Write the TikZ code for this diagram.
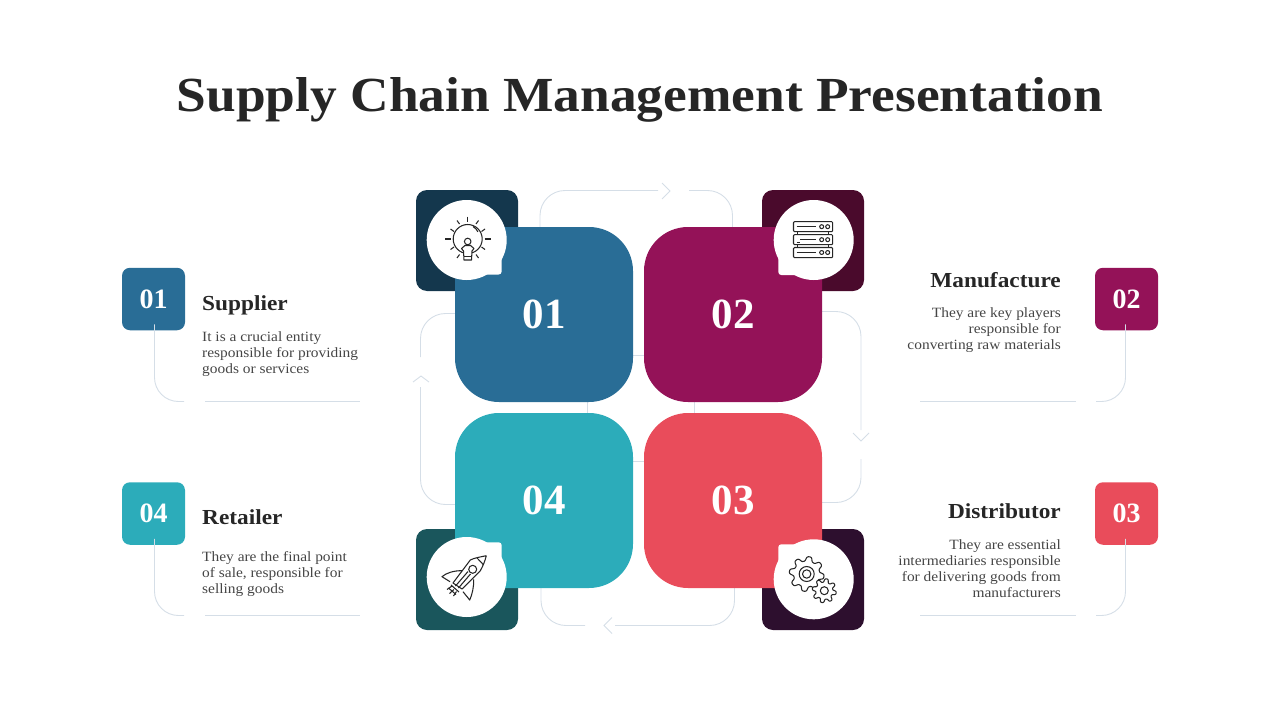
\documentclass[tikz,border=0pt]{standalone}
\usepackage{fontspec}
\usepackage{tikz}
\newfontfamily\lora[FakeStretch=1.09]{Liberation Serif}
\newfontfamily\lorafig{Liberation Serif}
\definecolor{ink}{HTML}{262626}
\definecolor{bodyink}{HTML}{454545}
\definecolor{guideline}{HTML}{D5DEE7}
\definecolor{bluesq}{HTML}{296D96}
\definecolor{plumsq}{HTML}{941258}
\definecolor{redsq}{HTML}{E94C5B}
\definecolor{tealsq}{HTML}{2CACBA}
\definecolor{bluedark}{HTML}{14374D}
\definecolor{plumdark}{HTML}{4A0A2C}
\definecolor{reddark}{HTML}{2D0F2E}
\definecolor{tealdark}{HTML}{1A565C}
\tikzset{
    bigsq/.style={shape=rectangle, rounded corners=44pt, minimum width=178pt, minimum height=175pt, inner sep=0pt, text=white, font=\lorafig\bfseries\fontsize{43}{43}\selectfont},
    darksq/.style={shape=rectangle, rounded corners=11pt, minimum width=102pt, minimum height=101pt, inner sep=0pt},
    bubble/.style={shape=circle, fill=white, minimum size=80pt, inner sep=0pt},
    tagbox/.style={shape=rectangle, rounded corners=8pt, minimum width=63pt, minimum height=62.5pt, inner sep=0pt, text=white, font=\lorafig\bfseries\fontsize{28}{28}\selectfont},
    headtext/.style={text=ink, inner sep=0pt, font=\lora\bfseries\fontsize{21.4}{24}\selectfont},
    bodytext/.style={text=bodyink, inner sep=0pt, font=\lora\fontsize{14.15}{16}\selectfont},
    guide/.style={draw=guideline, line width=0.9pt},
    icon/.style={draw=ink, line width=1.05pt, line join=round}
}
\begin{document}
\begin{tikzpicture}[x=1pt, y=-1pt]

                \useasboundingbox (0,0) rectangle (1280,720);

                \node[text=ink, inner sep=0pt, font=\lora\bfseries\fontsize{49}{49}\selectfont] (title) at (640,100) {Supply Chain Management Presentation};

                \coordinate (chevtop) at (670,191);
                \coordinate (chevright) at (861,441);
                \coordinate (chevbottom) at (604,625.5);
                \coordinate (chevleft) at (421,376);

                \draw[guide, rounded corners=25pt] (658,190.5) -- (540,190.5) -- (540,355.5) -- (732.5,355.5) -- (732.5,190.5) -- (689,190.5);
                \draw[guide] ([shift={(-8,-8)}]chevtop) -- (chevtop) -- ([shift={(-8,8)}]chevtop);

                \draw[guide, rounded corners=25pt] (861,430) -- (861,311.5) -- (694.5,311.5) -- (694.5,502.5) -- (861,502.5) -- (861,459);
                \draw[guide] ([shift={(-8,-8)}]chevright) -- (chevright) -- ([shift={(8,-8)}]chevright);

                \draw[guide, rounded corners=25pt] (585,625.5) -- (541,625.5) -- (541,461.5) -- (734.5,461.5) -- (734.5,625.5) -- (615,625.5);
                \draw[guide] ([shift={(8,-8)}]chevbottom) -- (chevbottom) -- ([shift={(8,8)}]chevbottom);

                \draw[guide, rounded corners=25pt] (420.5,357) -- (420.5,313.5) -- (587.5,313.5) -- (587.5,504.5) -- (420.5,504.5) -- (420.5,387);
                \draw[guide] ([shift={(-8,6)}]chevleft) -- (chevleft) -- ([shift={(8,6)}]chevleft);

                \node[darksq, fill=bluedark] (dark1) at (467,240.5) {};
                \node[darksq, fill=plumdark] (dark2) at (813,240.5) {};
                \node[darksq, fill=reddark] (dark3) at (813,579.5) {};
                \node[darksq, fill=tealdark] (dark4) at (467,579.5) {};

                \node[bigsq, fill=bluesq] (sq1) at (544,314.5) {01};
                \node[bigsq, fill=plumsq] (sq2) at (733,314.5) {02};
                \node[bigsq, fill=redsq] (sq3) at (733,500.5) {03};
                \node[bigsq, fill=tealsq] (sq4) at (544,500.5) {04};

                \node[bubble] (bub1) at (466.7,240) {};
                \node[bubble] (bub2) at (813.7,240) {};
                \node[bubble] (bub3) at (813.7,579.3) {};
                \node[bubble] (bub4) at (466.7,577) {};
                \fill[white, rounded corners=3pt] (bub1.center) rectangle (501.7,274.5);
                \fill[white, rounded corners=3pt] (bub2.center) rectangle (778.3,275);
                \fill[white, rounded corners=3pt] (bub3.center) rectangle (778.3,544.3);
                \fill[white, rounded corners=3pt] (bub4.center) rectangle (501.7,542.3);

                \draw[icon] (467.7,239) circle[radius=14.5];
                \draw[icon, fill=white] (464,260) -- (463.5,251) -- (461.5,248.5) -- (465,245.5) -- (470.5,245.5) -- (474,248.5) -- (472,251) -- (471.5,260) -- cycle;
                \draw[icon, fill=white] (467.7,241.5) circle[radius=3.3];
                \draw[icon] (464,256.5) -- (471.5,256.5);
                \draw[icon] (473,226.5) arc[start angle=-60, end angle=-25, radius=12];
                \draw[icon, line width=1.4pt] (467.7,216.5) -- (467.7,221.5);
                \draw[icon] (445,239) -- (451,239) (484.5,239) -- (490.5,239);
                \draw[icon] (457,220.5) -- (459.5,224) (478.5,220.5) -- (476,224);
                \draw[icon] (450.5,229) -- (454,231.5) (485,229) -- (481.5,231.5);
                \draw[icon] (450.5,249.5) -- (454,247) (485,249.5) -- (481.5,247);
                \draw[icon] (457,258) -- (459.5,254.5) (478.5,258) -- (476,254.5);

                \draw[icon, rounded corners=1pt] (793.5,221.7) rectangle (832.7,231.7);
                \draw[icon, rounded corners=1pt] (793.5,234.7) rectangle (832.7,244.7);
                \draw[icon, rounded corners=1pt] (793.5,247.5) rectangle (832.7,257.7);
                \draw[icon] (797.5,231.7) -- (797.5,234.7) (828.5,231.7) -- (828.5,234.7) (797.5,244.7) -- (797.5,247.5) (828.5,244.7) -- (828.5,247.5);
                \draw[icon] (796.5,226.7) -- (816,226.7) (800,239.7) -- (816,239.7) (796.5,252.5) -- (816,252.5) (796.5,242.5) -- (799.5,242.5);
                \draw[icon] (821.7,226.7) circle[radius=2] (827.7,226.7) circle[radius=2];
                \draw[icon] (821.7,239.7) circle[radius=2] (827.7,239.7) circle[radius=2];
                \draw[icon] (821.7,252.5) circle[radius=2] (827.7,252.5) circle[radius=2];

                \draw[icon] plot[samples=217, domain=0:360, variable=\t] ({806.7+(15.2+2.4*tanh(1.6*sin(8*\t+20)))*cos(\t)},{574+(15.2+2.4*tanh(1.6*sin(8*\t+20)))*sin(\t)}) -- cycle;
                \draw[icon] (806.7,574) circle[radius=7.5] (806.7,574) circle[radius=4.2];
                \draw[icon, fill=white] plot[samples=217, domain=0:360, variable=\t] ({824.3+(10.3+1.9*tanh(1.6*sin(8*\t)))*cos(\t)},{590.7+(10.3+1.9*tanh(1.6*sin(8*\t)))*sin(\t)}) -- cycle;
                \draw[icon] (824.3,590.7) circle[radius=4];

                \draw[icon] (486.3,555.7) .. controls (480,557) and (474,558) .. (470.3,560) -- (453,583) -- (462,589) -- (480.3,570.7) .. controls (483,566) and (485,561) .. (486.3,555.7);
                \draw[icon] (472.7,569.3) circle[radius=4];
                \draw[icon] (477,558) .. controls (479,560) and (482,563) .. (483.5,565);
                \draw[icon] (462,570.7) .. controls (454,570.5) and (446,573) .. (442,576.7) -- (450,581.7);
                \draw[icon] (473.7,579.3) .. controls (474,587) and (472,595) .. (469.7,600) -- (463,591.7);
                \draw[icon] (455.5,586) -- (468,571.5) (458.5,588) -- (470.5,574);
                \draw[icon] (451,585) -- (459,592) (448.5,588) -- (456,594.5);
                \draw[icon] (447,589.5) -- (452,586) (449.5,593.5) -- (454,589.5) (453.5,596) -- (456.5,591.5);

                \node[tagbox, fill=bluesq] (tag1) at (153.5,299) {01};
                \node[tagbox, fill=plumsq] (tag2) at (1126.5,299) {02};
                \node[tagbox, fill=redsq] (tag3) at (1126.5,513.5) {03};
                \node[tagbox, fill=tealsq] (tag4) at (153.5,513.5) {04};

                \coordinate (lead1) at (184,401.5);
                \coordinate (lead1b) at (205,401.5);
                \coordinate (lead1c) at (360,401.5);
                \coordinate (lead2) at (1096,401.5);
                \coordinate (lead2b) at (1076,401.5);
                \coordinate (lead2c) at (920,401.5);
                \coordinate (lead3) at (1096,615.5);
                \coordinate (lead3b) at (1076,615.5);
                \coordinate (lead3c) at (920,615.5);
                \coordinate (lead4) at (184,615.5);
                \coordinate (lead4b) at (205,615.5);
                \coordinate (lead4c) at (360,615.5);

                \draw[guide, rounded corners=24pt] ([xshift=1pt, yshift=6pt]tag1.south) |- (lead1);
                \draw[guide] (lead1b) -- (lead1c);
                \draw[guide, rounded corners=24pt] ([xshift=-1pt, yshift=6pt]tag2.south) |- (lead2);
                \draw[guide] (lead2b) -- (lead2c);
                \draw[guide, rounded corners=24pt] ([xshift=-1pt, yshift=6pt]tag3.south) |- (lead3);
                \draw[guide] (lead3b) -- (lead3c);
                \draw[guide, rounded corners=24pt] ([xshift=1pt, yshift=6pt]tag4.south) |- (lead4);
                \draw[guide] (lead4b) -- (lead4c);

                \node[headtext, anchor=base west] (head1) at (202,310) {Supplier};
                \node[bodytext, anchor=north west, align=left] (text1) at (202,331) {It is a crucial entity\\responsible for providing\\goods or services};

                \node[headtext, anchor=base east] (head2) at (1061,287) {Manufacture};
                \node[bodytext, anchor=north east, align=right] (text2) at (1061,307.5) {They are key players\\responsible for\\converting raw materials};

                \node[headtext, anchor=base east] (head3) at (1061,518) {Distributor};
                \node[bodytext, anchor=north east, align=right] (text3) at (1061,539) {They are essential\\intermediaries responsible\\for delivering goods from\\manufacturers};

                \node[headtext, anchor=base west] (head4) at (202,524) {Retailer};
                \node[bodytext, anchor=north west, align=left] (text4) at (202,551) {They are the final point\\of sale, responsible for\\selling goods};

            \end{tikzpicture}
\end{document}
